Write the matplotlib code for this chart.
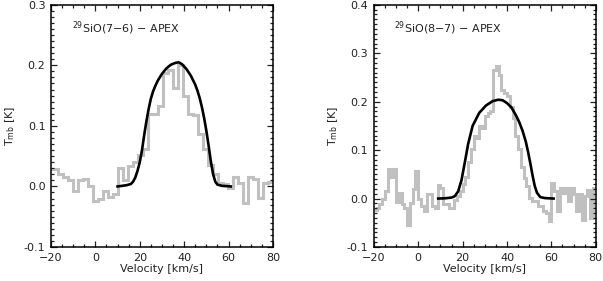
import numpy as np
import matplotlib
matplotlib.use("Agg")
from matplotlib import pyplot as plt
from matplotlib.ticker import MultipleLocator

### spectrum 29SiO(7-6), channel width 2.25 km/s
v0_76 = -21.2
dv_76 = 2.25
t_76 = [0.029, 0.029, 0.020, 0.015, 0.010, -0.008, 0.010, 0.012, 0.000, -0.024,
        -0.020, -0.008, -0.018, -0.012, 0.030, 0.010, 0.033, 0.041, 0.052, 0.062,
        0.120, 0.120, 0.133, 0.188, 0.193, 0.163, 0.200, 0.150, 0.120, 0.118,
        0.087, 0.062, 0.035, 0.020, 0.005, 0.004, -0.003, 0.015, 0.005, -0.027,
        0.015, 0.012, -0.019, 0.005, 0.008, 0.008]

# model 7-6
mv_76 = [10, 12, 14, 16, 17, 18, 19, 20, 21, 22, 23, 24, 25, 26, 27, 28, 30, 32, 34,
         36, 37.5, 39, 41, 43, 45, 46, 47, 48, 49, 50, 51, 52, 53, 54, 55, 57, 59, 61]
mt_76 = [0.0, 0.001, 0.002, 0.004, 0.008, 0.015, 0.026, 0.040, 0.060, 0.085, 0.108,
         0.128, 0.145, 0.157, 0.166, 0.174, 0.186, 0.195, 0.201, 0.204, 0.205, 0.202,
         0.194, 0.183, 0.168, 0.158, 0.146, 0.131, 0.113, 0.092, 0.068, 0.042, 0.021,
         0.008, 0.003, 0.001, 0.0005, 0.0]

### spectrum 29SiO(8-7), channel width 1.25 km/s
v0_87 = -20.0
dv_87 = 1.25
t_87 = [-0.024, -0.020, -0.012, 0.000, 0.015, 0.062, 0.045, 0.060, -0.008, 0.012,
        -0.012, -0.020, -0.055, -0.010, 0.020, 0.057, 0.000, -0.015, -0.025, 0.010,
        0.010, -0.015, -0.020, 0.028, 0.022, -0.012, -0.012, -0.020, -0.020, -0.002,
        0.005, 0.015, 0.030, 0.045, 0.076, 0.103, 0.130, 0.125, 0.150, 0.145,
        0.171, 0.177, 0.180, 0.265, 0.274, 0.255, 0.225, 0.218, 0.211, 0.190,
        0.167, 0.130, 0.103, 0.065, 0.042, 0.025, 0.001, -0.005, -0.005, -0.016,
        -0.016, -0.026, -0.030, -0.046, 0.032, 0.015, -0.026, 0.022, 0.012, 0.022,
        -0.005, 0.022, 0.010, -0.026, 0.010, -0.045, 0.005, 0.018, -0.040, 0.022]

# model 8-7
mv_87 = [9, 12, 15, 16.5, 18, 19.5, 21, 22.5, 24.5, 27.5, 30.5, 33.5, 36, 38, 40, 42,
         44, 45.5, 47, 48.5, 49.5, 50.5, 51.5, 52.5, 53.5, 55, 57, 61]
mt_87 = [0.0, 0.0005, 0.002, 0.005, 0.015, 0.038, 0.075, 0.113, 0.150, 0.177, 0.192,
         0.201, 0.204, 0.203, 0.197, 0.188, 0.172, 0.158, 0.140, 0.117, 0.096, 0.073,
         0.048, 0.026, 0.012, 0.003, 0.001, 0.0]

panels = [
    (t_76, v0_76, dv_76, mv_76, mt_76, (-0.1, 0.3), "$^{29}$SiO(7\u22126) \u2212 APEX"),
    (t_87, v0_87, dv_87, mv_87, mt_87, (-0.1, 0.4), "$^{29}$SiO(8\u22127) \u2212 APEX"),
]

plt.rcParams['font.family'] = 'DejaVu Sans'
plt.rcParams['font.size'] = 8

fig = plt.figure(figsize=(6.03, 2.81), dpi=100)
boxes = [[0.0846, 0.121, 0.368, 0.862], [0.620, 0.121, 0.368, 0.862]]

for (t, v0, dv, mv, mt, ylim, txt), box in zip(panels, boxes):
    ax = fig.add_axes(box)
    edges = v0 + dv * np.arange(len(t) + 1)
    ax.stairs(t, edges, color="#c0c0c0", linewidth=2.2, baseline=None)
    ax.plot(mv, mt, color="black", linewidth=1.9)
    ax.set_xlim(-20, 80)
    ax.set_ylim(*ylim)
    ax.xaxis.set_major_locator(MultipleLocator(20))
    ax.xaxis.set_minor_locator(MultipleLocator(5))
    ax.yaxis.set_major_locator(MultipleLocator(0.1))
    ax.yaxis.set_minor_locator(MultipleLocator(0.01))
    ax.yaxis.set_major_formatter(matplotlib.ticker.FormatStrFormatter('%.1f'))
    ax.tick_params(which="both", direction="in", top=True, right=True, width=0.9, colors="#222222")
    ax.tick_params(which="major", length=4.5, pad=4)
    ax.tick_params(which="minor", length=2)
    for s in ax.spines.values():
        s.set_linewidth(1.1)
    ax.set_xlabel("Velocity [km/s]", labelpad=1, color="#222222")
    ax.set_ylabel("T$_{\\rm mb}$ [K]", labelpad=5, color="#222222")
    ax.text(0.093, 0.905, txt, transform=ax.transAxes, va="center", ha="left", color="#222222")

fig.savefig("out.png", dpi=100)
